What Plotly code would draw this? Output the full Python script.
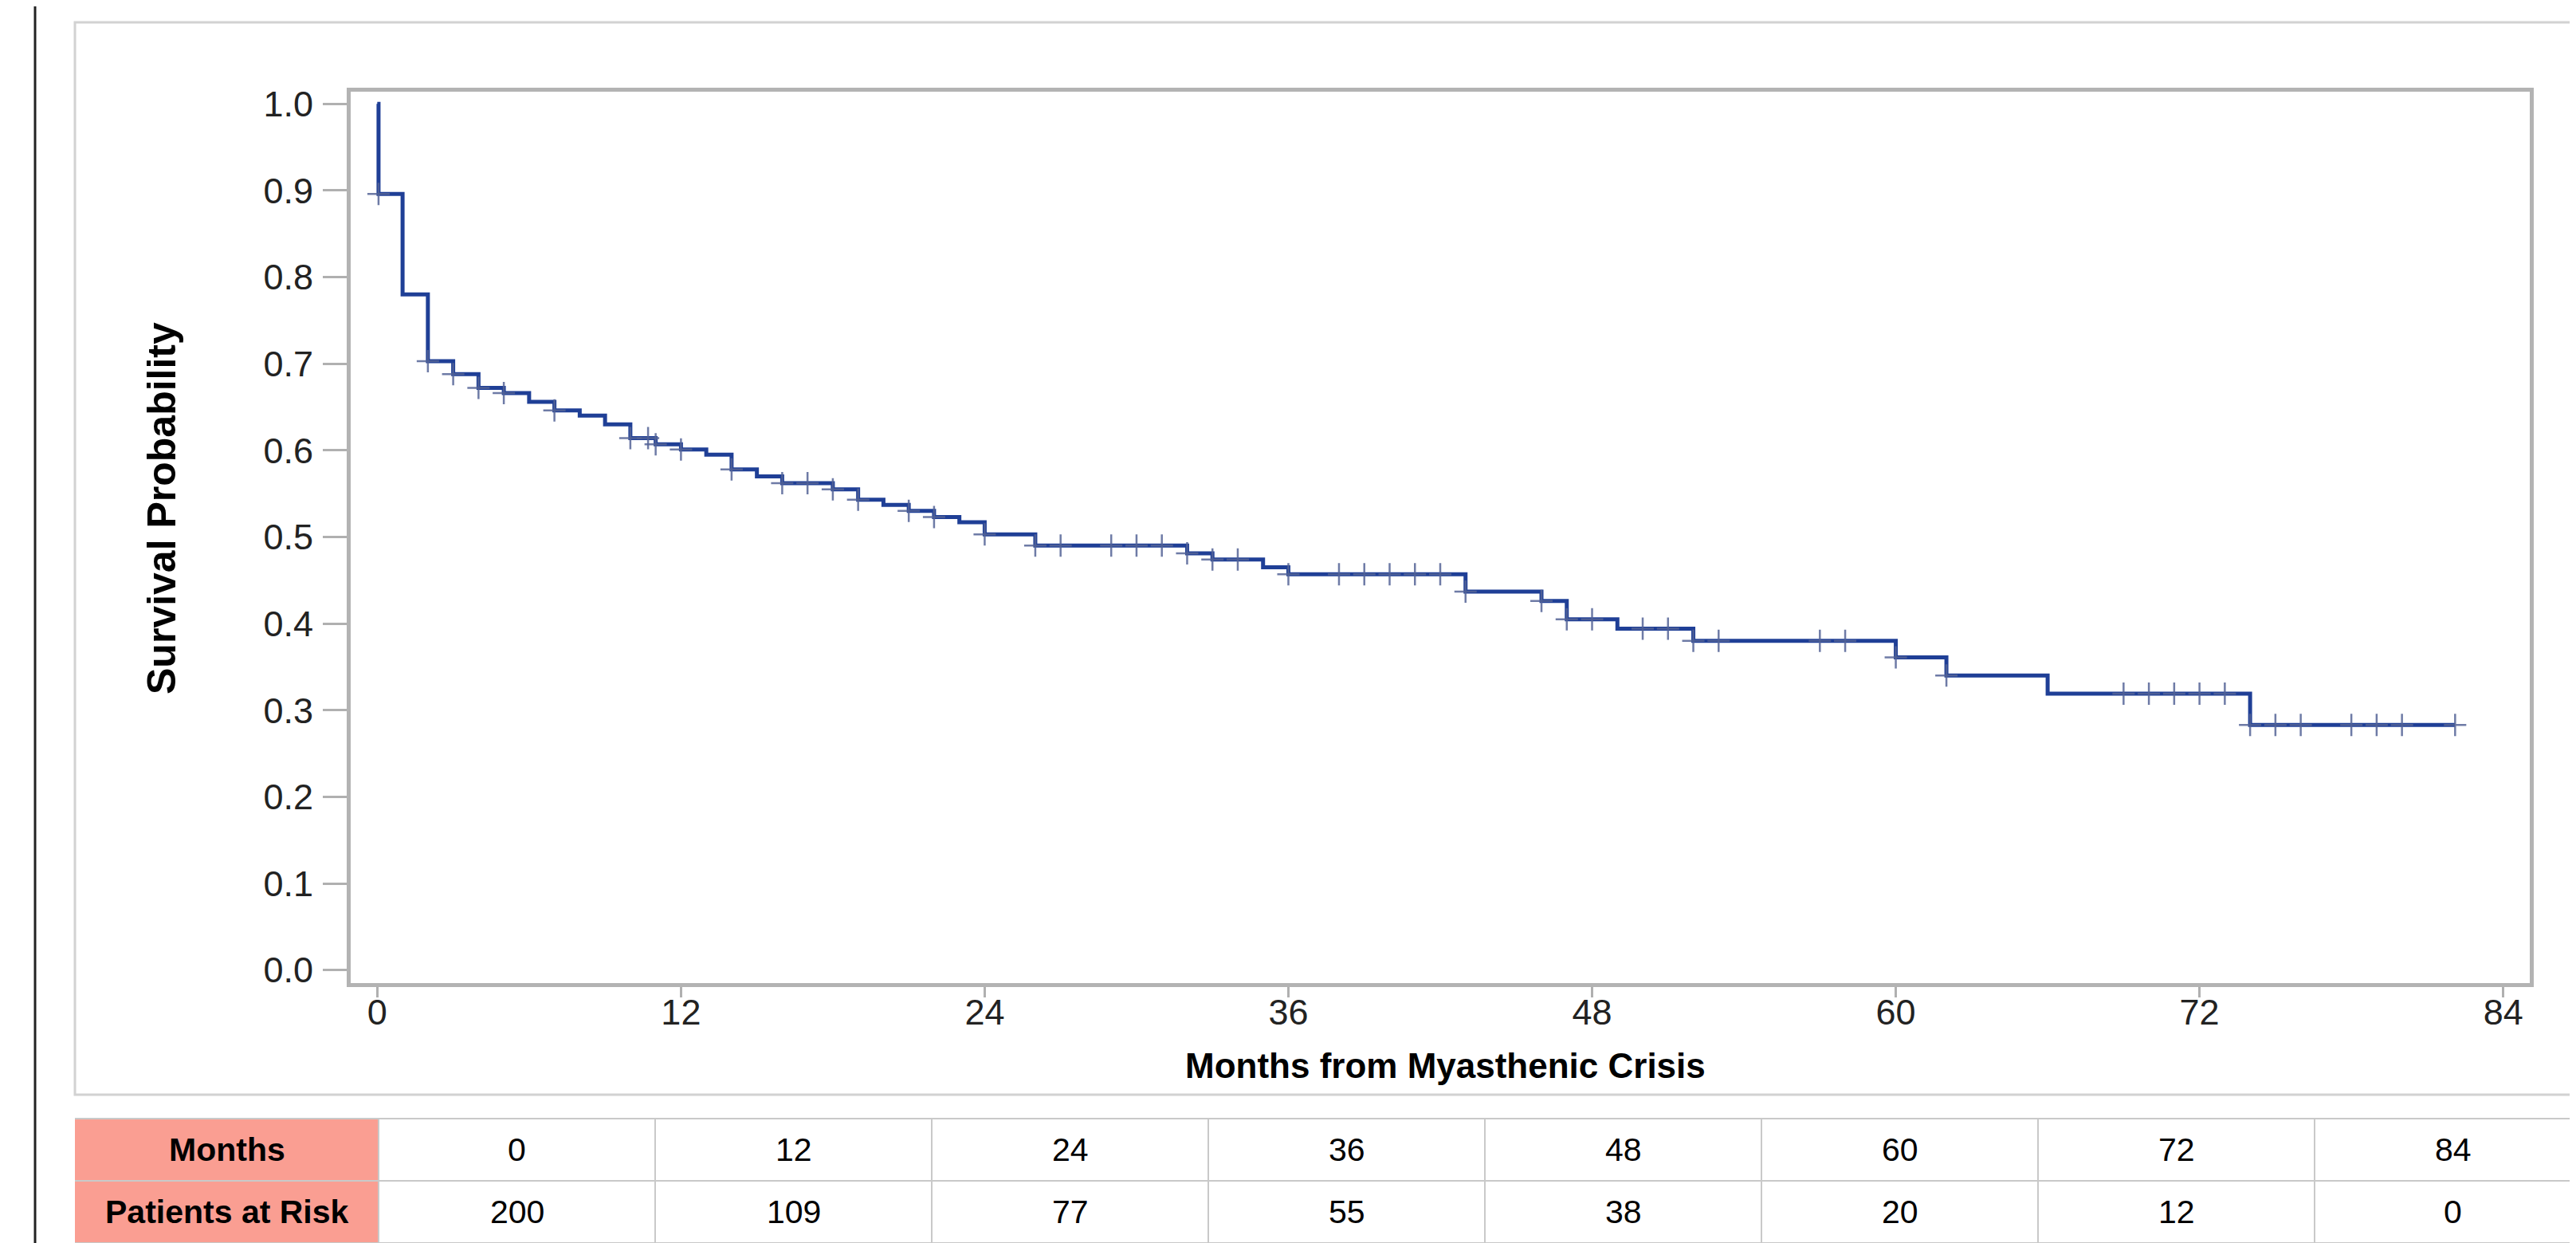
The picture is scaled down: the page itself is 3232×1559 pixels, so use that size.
import plotly.graph_objects as go

# ---- data ----
step_times = [0, 0.05, 1, 2, 3, 4, 5, 6, 7, 8, 9, 10, 11, 12, 13, 14, 15, 16, 18, 19, 20,
              21, 22, 23, 24, 26, 32, 33, 35, 36, 43, 46, 47, 49, 52, 60, 62, 66, 74, 82.1]
step_surv = [1.0, 0.896, 0.780, 0.703, 0.688, 0.672, 0.666, 0.656, 0.646, 0.640, 0.630, 0.614,
             0.607, 0.601, 0.595, 0.578, 0.570, 0.562, 0.555, 0.543, 0.537, 0.530, 0.523, 0.517,
             0.503, 0.490, 0.481, 0.474, 0.465, 0.457, 0.437, 0.426, 0.405, 0.394, 0.380, 0.361,
             0.340, 0.319, 0.283, 0.283]

censor_times = [0.05, 2, 3, 4, 5, 7, 10, 10.7, 11, 12, 14, 16, 17, 18, 19, 21, 22, 24, 26, 27,
                29, 30, 31, 32, 33, 34, 36, 38, 39, 40, 41, 42, 43, 46, 47, 48, 50, 51, 52, 53,
                57, 58, 60, 62, 69, 70, 71, 72, 73, 74, 75, 76, 78, 79, 80, 82.1]
censor_surv = [0.896, 0.703, 0.688, 0.672, 0.666, 0.646, 0.614, 0.614, 0.607, 0.601, 0.578,
               0.562, 0.562, 0.555, 0.543, 0.530, 0.523, 0.503, 0.490, 0.490, 0.490, 0.490,
               0.490, 0.481, 0.474, 0.474, 0.457, 0.457, 0.457, 0.457, 0.457, 0.457, 0.437,
               0.426, 0.405, 0.405, 0.394, 0.394, 0.380, 0.380, 0.380, 0.380, 0.361, 0.340,
               0.319, 0.319, 0.319, 0.319, 0.319, 0.283, 0.283, 0.283, 0.283, 0.283, 0.283, 0.283]

x_ticks = [0, 12, 24, 36, 48, 60, 72, 84]
y_ticks = [0.0, 0.1, 0.2, 0.3, 0.4, 0.5, 0.6, 0.7, 0.8, 0.9, 1.0]

table_months = [0, 12, 24, 36, 48, 60, 72, 84]
table_at_risk = [200, 109, 77, 55, 38, 20, 12, 0]
row_labels = ["Months", "Patients at Risk"]

# ---- layout geometry (pixels) ----
W, H = 3232, 1559
PL, PR, PT, PB = 432, 3166, 107, 1225


def px(x):
    return (x - PL) / (PR - PL)


def py(y):
    return (PB - y) / (PB - PT)


FONT = "Liberation Sans, Arial, Helvetica, sans-serif"
LINE_COLOR = "#1f3f96"

fig = go.Figure()
fig.add_trace(go.Scatter(
    x=step_times, y=step_surv, mode="lines", line_shape="hv",
    line=dict(color=LINE_COLOR, width=5), hoverinfo="skip", showlegend=False))
fig.add_trace(go.Scatter(
    x=censor_times, y=censor_surv, mode="markers",
    marker=dict(symbol="cross-thin-open", size=20, color="rgba(85,100,150,0.85)",
                line=dict(color="rgba(85,100,150,0.85)", width=2.5)),
    hoverinfo="skip", showlegend=False))

shapes = []
# black left frame line
shapes.append(dict(type="line", xref="paper", yref="paper", x0=px(36), x1=px(36),
                   y0=py(-20), y1=py(H + 20), line=dict(color="#222222", width=3)))
# outer panel
shapes.append(dict(type="rect", xref="paper", yref="paper", x0=px(86), x1=px(3226),
                   y0=py(1365), y1=py(20), line=dict(color="#d2d2d2", width=3),
                   fillcolor="rgba(0,0,0,0)", layer="below"))

# ---- risk table ----
t_top, row_h = 1395, 78
hdr_l, hdr_r = 86, 467
col_w = 347
n_cols = len(table_months)
tbl_r = hdr_r + col_w * n_cols
for r in range(2):
    y0 = t_top + r * row_h
    shapes.append(dict(type="rect", xref="paper", yref="paper", x0=px(hdr_l), x1=px(hdr_r),
                       y0=py(y0 + row_h), y1=py(y0), fillcolor="#fa9e92",
                       line=dict(width=0), layer="below"))
for r in range(3):
    y = t_top + r * row_h
    shapes.append(dict(type="line", xref="paper", yref="paper", x0=px(hdr_l), x1=px(tbl_r),
                       y0=py(y), y1=py(y), line=dict(color="#c9c9c9", width=2)))
for c in range(n_cols + 1):
    x = hdr_r + c * col_w
    shapes.append(dict(type="line", xref="paper", yref="paper", x0=px(x), x1=px(x),
                       y0=py(t_top + 2 * row_h), y1=py(t_top), line=dict(color="#c9c9c9", width=2)))

annotations = []
row_centers = [t_top + row_h / 2, t_top + row_h * 1.5]
for r, lab in enumerate(row_labels):
    annotations.append(dict(xref="paper", yref="paper", x=px((hdr_l + hdr_r) / 2), y=py(row_centers[r]),
                            text="<b>%s</b>" % lab, showarrow=False, xanchor="center", yanchor="middle",
                            font=dict(family=FONT, size=41, color="#000000")))
for c in range(n_cols):
    cx = hdr_r + col_w * (c + 0.5)
    for r, vals in enumerate([table_months, table_at_risk]):
        annotations.append(dict(xref="paper", yref="paper", x=px(cx), y=py(row_centers[r]),
                                text=str(vals[c]), showarrow=False, xanchor="center", yanchor="middle",
                                font=dict(family=FONT, size=41, color="#000000")))

# axis titles
annotations.append(dict(xref="paper", yref="paper", x=px(1805), y=py(1328),
                        text="<b>Months from Myasthenic Crisis</b>", showarrow=False,
                        xanchor="center", yanchor="middle",
                        font=dict(family=FONT, size=44, color="#000000")))
annotations.append(dict(xref="paper", yref="paper", x=px(195), y=py(630),
                        text="<b>Survival Probability</b>", showarrow=False, textangle=-90,
                        xanchor="center", yanchor="middle",
                        font=dict(family=FONT, size=50, color="#000000")))

fig.update_layout(
    width=W, height=H,
    margin=dict(l=PL, r=W - PR, t=PT, b=H - PB, pad=0),
    paper_bgcolor="white", plot_bgcolor="white",
    shapes=shapes, annotations=annotations,
    showlegend=False,
    font=dict(family=FONT, color="#222222"),
)
fig.update_xaxes(range=[-1.05, 85.05], tickvals=x_ticks, ticks="outside", ticklen=13, tickwidth=3,
                 tickcolor="#b0b0b0", showline=True, linecolor="#b3b3b3", linewidth=5, mirror=True,
                 showgrid=False, zeroline=False, ticklabelstandoff=-20,
                 tickfont=dict(family=FONT, size=45, color="#222222"))
fig.update_yaxes(range=[-0.015, 1.014], tickvals=y_ticks, tickformat=".1f", ticks="outside",
                 ticklen=30, tickwidth=3, tickcolor="#b0b0b0", showline=True, linecolor="#b3b3b3",
                 linewidth=5, mirror=True, showgrid=False, zeroline=False, ticklabelstandoff=3,
                 tickfont=dict(family=FONT, size=45, color="#222222"))

fig.write_html("out.html")
